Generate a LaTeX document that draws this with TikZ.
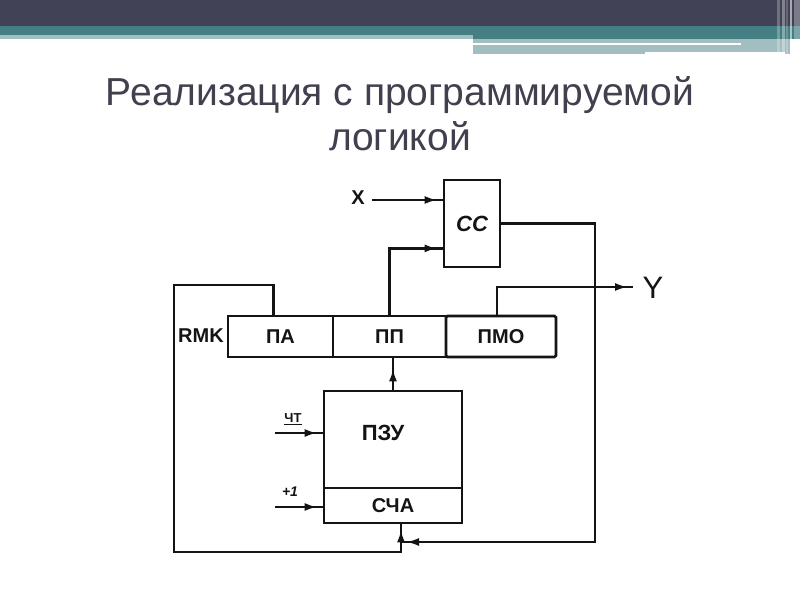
\documentclass[tikz,border=0pt]{standalone}
\usepackage{fontspec}
\setmainfont{Liberation Sans}
\usetikzlibrary{arrows.meta,decorations.markings,calc}
\definecolor{bandDark}{RGB}{65,66,86}
\definecolor{bandTeal}{RGB}{69,126,131}
\definecolor{bandLight}{RGB}{163,190,192}
\definecolor{titleGray}{RGB}{64,64,78}
\definecolor{ink}{RGB}{20,20,20}
\tikzset{
  box/.style={draw=ink,line width=2.8pt,minimum height=41pt,inner sep=0pt,font=\bfseries\fontsize{20}{20}\selectfont,text=ink},
  wire/.style={draw=ink,line width=2.8pt},
  arr/.style={wire,postaction={decorate},decoration={markings,mark=at position -5pt with {\arrow{Latex[length=13pt,width=8pt]}}}},
  arrfar/.style={wire,postaction={decorate},decoration={markings,mark=at position -10pt with {\arrow{Latex[length=13pt,width=8pt]}}}},
  lab/.style={inner sep=0pt,text=ink,font=\bfseries\fontsize{20}{20}\selectfont},
  titlefont/.style={text=titleGray,font=\fontsize{39}{45}\selectfont,anchor=base,inner sep=0pt},
}
\begin{document}
\begin{tikzpicture}[x=1pt,y=-1pt]
\useasboundingbox (0,0) rectangle (800,600);
\fill[white] (0,0) rectangle (800,600);
% top banner
\fill[bandDark] (0,0) rectangle (800,26);
\fill[bandTeal] (0,26) rectangle (800,35);
\fill[bandTeal] (473,35) rectangle (800,39);
\fill[bandLight] (0,35) rectangle (473,39);
\fill[bandLight] (473,39) rectangle (790,54);
\fill[white] (473,43) rectangle (741,45);
\fill[white] (645,51.7) rectangle (785,54);
\fill[white,opacity=0.25] (777,0) rectangle (780,54);
\fill[white,opacity=0.35] (782,0) rectangle (785,54);
\fill[white,opacity=0.2] (786,0) rectangle (788,54);
\fill[white,opacity=0.55] (790,0) rectangle (792,54);
\fill[white,opacity=0.3] (794,0) rectangle (800,54);
% title
\node[titlefont] (title1) at (400,105) {Реализация с программируемой};
\node[titlefont] (title2) at (400,150) {логикой};
% blocks
\node[box,minimum width=56pt,minimum height=87pt,font=\bfseries\itshape\fontsize{22}{22}\selectfont] (cc) at (472,223.5) {СС};
\node[box,minimum width=105pt] (pa) at (280.5,336.5) {ПА};
\node[box,minimum width=113pt] (pp) at (389.5,336.5) {ПП};
\node[box,minimum width=110pt,rounded corners=1.5pt] (pmo) at (501,336.5) {ПМО};
\node[box,minimum width=138pt,minimum height=97pt] (pzu) at (393,439.5) {};
\node[lab,font=\bfseries\fontsize{22}{22}\selectfont] (pzut) at (383,433) {ПЗУ};
\node[box,minimum width=138pt,minimum height=35pt] (sca) at (393,505.5) {СЧА};
% labels
\node[lab] (rmk) at (201,336) {RMK};
\node[lab,font=\bfseries\fontsize{20}{20}\selectfont] (xl) at (358,198) {X};
\node[lab,font=\fontsize{31}{31}\selectfont] (yl) at (653,288) {Y};
\node[lab,font=\bfseries\fontsize{13}{13}\selectfont] (ctl) at (293,419) {\underline{ЧТ}};
\node[lab,font=\bfseries\itshape\fontsize{14}{14}\selectfont] (p1l) at (290,492) {+1};
% coordinates for free ends and bends
\coordinate (xs) at (372,200);
\coordinate (lt) at (174,285);
\coordinate (bot) at (401,552);
\coordinate (fbr) at (595,542);
\coordinate (fbe) at (401,542);
\coordinate (yend) at (633,287);
\coordinate (ctin) at (275,433);
\coordinate (p1in) at (275,507);
% connectors
\draw[arr] (xs) -- (xs -| cc.west);
\draw[arr] (pp.north) |- ($(cc.south west)+(0,-20)$);
\draw[arr] (cc.east) -| (fbr) -- (fbe);
\draw[arr] ($(pmo.north)+(-4,0)$) |- (yend);
\draw[arrfar] (pzu.north) -- (pzu.north |- pp.south);
\draw[arr] ($(pa.north)+(-7,0)$) |- (lt) |- (bot) -- (bot |- sca.south);
\draw[arr] (ctin) -- (ctin -| pzu.west);
\draw[arr] (p1in) -- (p1in -| sca.west);
\end{tikzpicture}
\end{document}
